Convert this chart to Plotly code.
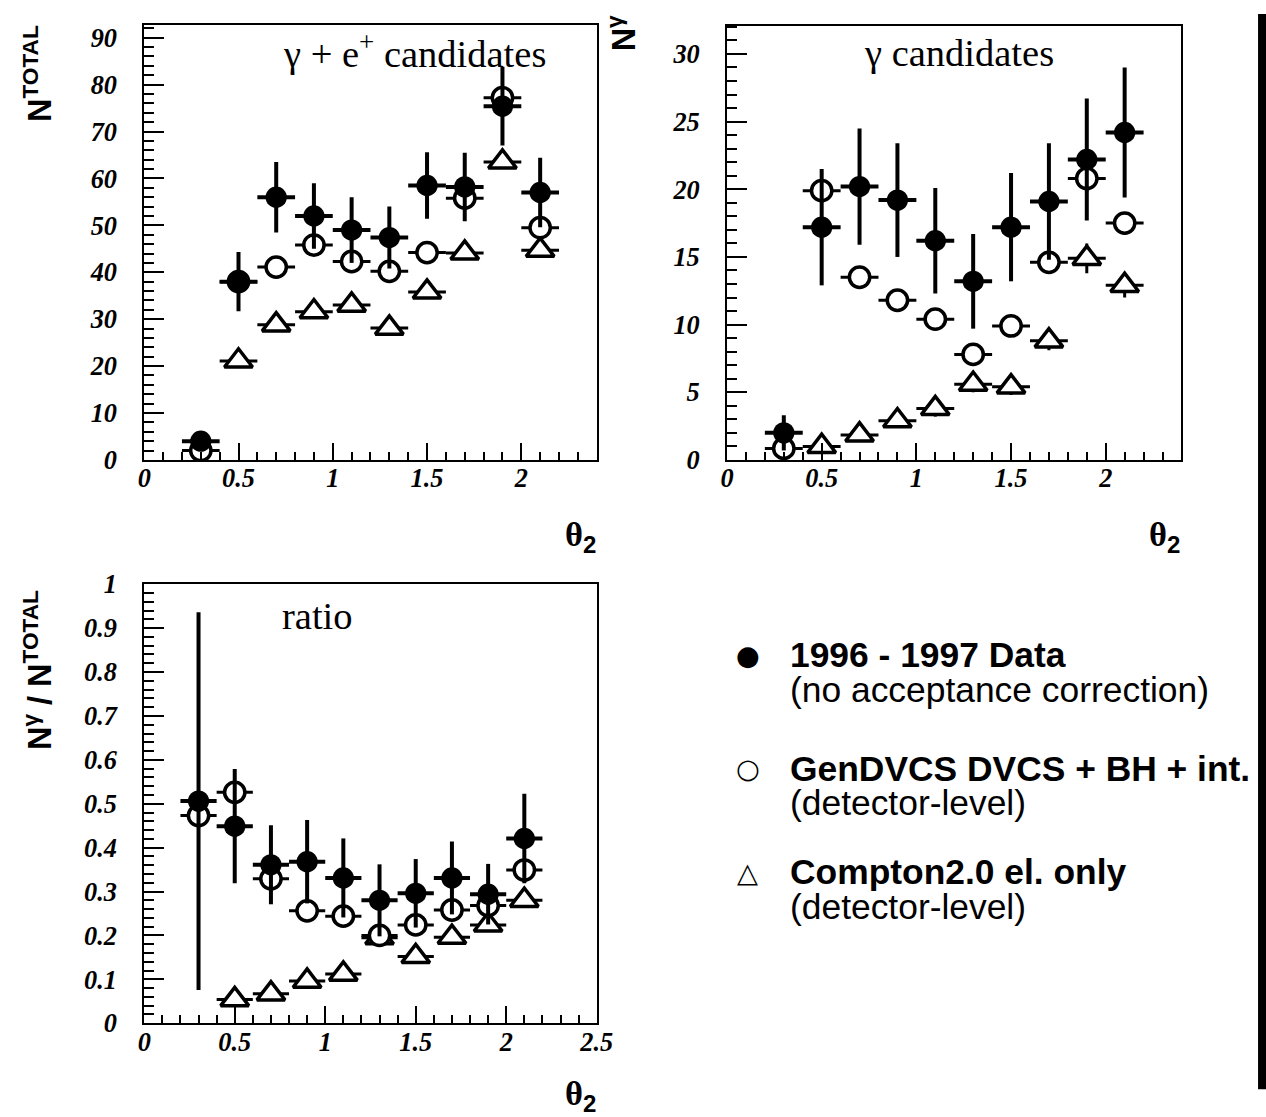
import plotly.graph_objects as go

REF_W, REF_H = 1266, 1117
# The photographed page appears slightly larger than the window, so the figure
# is built a bit larger and everything is placed with paper fractions.
K = 1282 / 1266
W, H = 1282, 1131

# ---------------- data ----------------
theta = [0.3, 0.5, 0.7, 0.9, 1.1, 1.3, 1.5, 1.7, 1.9, 2.1]
bin_halfwidth = 0.1

# N^TOTAL  (gamma + e+ candidates)
data_tot = [4, 38, 56, 52, 49, 47.4, 58.5, 58.2, 75.4, 57]
data_tot_err = [2, 6.3, 7.5, 7, 7, 6.6, 7.1, 7.3, 8.4, 7.4]
gen_tot = [2, 38, 41.1, 45.8, 42.3, 40.2, 44.2, 55.8, 77.2, 49.5]
comp_tot = [None, 21.1, 28.8, 31.6, 33, 28.1, 35.8, 44.1, 63.5, 44.7]

# N^gamma  (gamma candidates)
data_gam = [2, 17.2, 20.2, 19.2, 16.2, 13.2, 17.2, 19.1, 22.2, 24.2]
data_gam_err = [1.3, 4.3, 4.3, 4.2, 3.9, 3.5, 4.0, 4.3, 4.5, 4.8]
gen_gam = [0.85, 19.9, 13.5, 11.8, 10.4, 7.8, 9.9, 14.6, 20.8, 17.5]
gen_gam_err = [0.4, 0.9, 0.6, 0.5, 0.5, 0.5, 0.5, 0.6, 1.0, 0.7]
comp_gam = [None, 1.0, 1.85, 2.9, 3.8, 5.6, 5.4, 8.8, 14.9, 12.9]
comp_gam_err = [0, 0.4, 0.4, 0.5, 0.6, 0.6, 0.6, 0.7, 1.1, 0.9]

# ratio N^gamma / N^TOTAL
data_rat = [0.506, 0.449, 0.361, 0.368, 0.331, 0.280, 0.296, 0.331, 0.294, 0.421]
data_rat_err = [0.43, 0.13, 0.09, 0.095, 0.09, 0.082, 0.078, 0.083, 0.069, 0.102]
gen_rat = [0.473, 0.526, 0.329, 0.256, 0.244, 0.200, 0.224, 0.258, 0.268, 0.349]
comp_rat = [None, 0.054, 0.067, 0.096, 0.112, 0.195, 0.152, 0.196, 0.224, 0.280]

panel_titles = ["γ + e<sup>+</sup> candidates", "γ candidates", "ratio"]
y_titles = ["N<sup>TOTAL</sup>", "N<sup>γ</sup>", "N<sup>γ</sup> / N<sup>TOTAL</sup>"]
x_title = "θ<sub><span style=\"font-family:Liberation Sans\">2</span></sub>"
legend_main = ["1996 - 1997 Data", "GenDVCS DVCS + BH + int.", "Compton2.0 el. only"]
legend_sub = ["(no acceptance correction)", "(detector-level)", "(detector-level)"]
legend_sym = ["●", "○", "△"]

# ---------------- helpers ----------------
def px(x):
    return x / REF_W

def py(y):
    return 1 - y / REF_H

def sz(v):
    return round(v * K, 1)

tick_font = dict(family="Liberation Serif", size=sz(26), color="black", weight="bold", style="italic")

fig = go.Figure()

panels = [
    ("x", "y", data_tot, data_tot_err, gen_tot, None, comp_tot, None),
    ("x2", "y2", data_gam, data_gam_err, gen_gam, gen_gam_err, comp_gam, comp_gam_err),
    ("x3", "y3", data_rat, data_rat_err, gen_rat, None, comp_rat, None),
]

for xa, ya, d, de, g, ge, c, ce in panels:
    ex = dict(type="constant", value=bin_halfwidth, thickness=3, width=0, color="black")
    fig.add_trace(go.Scatter(
        x=theta, y=c, xaxis=xa, yaxis=ya, mode="markers",
        marker=dict(symbol="triangle-up", size=sz(24), color="white", line=dict(color="black", width=3.5)),
        error_x=ex,
        error_y=(dict(type="data", array=ce, thickness=3, width=0, color="black") if ce else dict(visible=False)),
        showlegend=False))
    fig.add_trace(go.Scatter(
        x=theta, y=g, xaxis=xa, yaxis=ya, mode="markers",
        marker=dict(symbol="circle", size=sz(20), color="white", line=dict(color="black", width=3.5)),
        error_x=ex,
        error_y=(dict(type="data", array=ge, thickness=3, width=0, color="black") if ge else dict(visible=False)),
        showlegend=False))
    fig.add_trace(go.Scatter(
        x=theta, y=d, xaxis=xa, yaxis=ya, mode="markers",
        marker=dict(symbol="circle", size=sz(21), color="black"),
        error_x=dict(type="constant", value=bin_halfwidth, thickness=4, width=0, color="black"),
        error_y=dict(type="data", array=de, thickness=4, width=0, color="black"),
        showlegend=False))


def xaxis(domain, rng, anchor):
    return dict(domain=domain, range=rng, anchor=anchor, showline=True, linecolor="black",
                linewidth=2, mirror=True, ticks="inside", ticklen=17, tickwidth=1.5,
                tickcolor="black", dtick=0.5, tick0=0, showgrid=False, zeroline=False,
                tickfont=tick_font, ticklabelstandoff=-6,
                minor=dict(ticks="inside", ticklen=8, dtick=0.1, tickcolor="black", tickwidth=1.5))


def yaxis(domain, rng, anchor, dt, mdt):
    return dict(domain=domain, range=rng, anchor=anchor, showline=True, linecolor="black",
                linewidth=2, mirror=True, ticks="inside", ticklen=20, tickwidth=1.5,
                tickcolor="black", dtick=dt, tick0=0, showgrid=False, zeroline=False,
                tickfont=tick_font, ticklabelstandoff=20,
                minor=dict(ticks="inside", ticklen=10, dtick=mdt, tickcolor="black", tickwidth=1.5))


annotations = []
# panel titles
for txt, (x, y) in zip(panel_titles, [(410, 38), (957, 40), (312, 610)]):
    annotations.append(dict(text=txt, x=px(x), y=py(y), xref="paper", yref="paper",
                            showarrow=False, xanchor="center", yanchor="middle",
                            font=dict(family="Liberation Serif", size=sz(38), color="black")))
# y titles
for txt, (x, y) in zip(y_titles, [(31, 60), (618, 20), (31, 665)]):
    annotations.append(dict(text=txt, x=px(x), y=py(y), xref="paper", yref="paper",
                            showarrow=False, xanchor="center", yanchor="middle", textangle=-90,
                            font=dict(family="Liberation Sans", size=sz(32), color="black", weight="bold")))
# x titles
for (x, y) in [(577, 530), (1164, 530), (577, 1096)]:
    annotations.append(dict(text=x_title, x=px(x), y=py(y), xref="paper", yref="paper",
                            showarrow=False, xanchor="center", yanchor="middle",
                            font=dict(family="Liberation Serif", size=sz(34), color="black", weight="bold")))
# legend
for i, (sym, main, sub) in enumerate(zip(legend_sym, legend_main, legend_sub)):
    y0 = [650, 765, 870][i]
    annotations.append(dict(text=sym, x=px(745), y=py(y0), xref="paper", yref="paper",
                            showarrow=False, xanchor="center", yanchor="middle",
                            font=dict(family="DejaVu Sans", size=sz(27), color="black", weight="bold")))
    annotations.append(dict(text=main, x=px(785), y=py(y0), xref="paper", yref="paper",
                            showarrow=False, xanchor="left", yanchor="middle",
                            font=dict(family="Liberation Sans", size=sz(35), color="black", weight="bold")))
    annotations.append(dict(text=sub, x=px(785), y=py(y0 + 35), xref="paper", yref="paper",
                            showarrow=False, xanchor="left", yanchor="middle",
                            font=dict(family="Liberation Sans", size=sz(35), color="black")))

fig.update_layout(
    width=W, height=H, margin=dict(l=0, r=0, t=0, b=0),
    paper_bgcolor="white", plot_bgcolor="white",
    xaxis=xaxis([px(138), px(593)], [0, 2.4], "y"),
    yaxis=yaxis([py(452), py(10.7)], [0, 92.8], "x", 10, 2),
    xaxis2=xaxis([px(724), px(1181)], [0, 2.4], "y2"),
    yaxis2=yaxis([py(452), py(11.7)], [0, 32.1], "x2", 5, 1),
    xaxis3=xaxis([px(138), px(593)], [0, 2.5], "y3"),
    yaxis3=yaxis([py(1023), py(578)], [0, 1.0], "x3", 0.1, 0.02),
    annotations=annotations,
    shapes=[dict(type="rect", xref="paper", yref="paper", x0=px(1258), x1=1.0,
                 y0=py(1090), y1=1.0, fillcolor="black", line=dict(width=0))],
)

page_fix = (
    "(function(){var s=document.createElement('style');"
    "s.textContent='html,body{margin:0!important;padding:0!important;overflow:hidden;}';"
    "document.head.appendChild(s);"
    "var d=document.getElementById('{plot_id}');"
    "if(d){d.style.position='absolute';d.style.left='0px';d.style.top='0px';}"
    "window.scrollTo(0,0);})();"
)

fig.write_html("out.html", config={"displayModeBar": False}, post_script=page_fix)
